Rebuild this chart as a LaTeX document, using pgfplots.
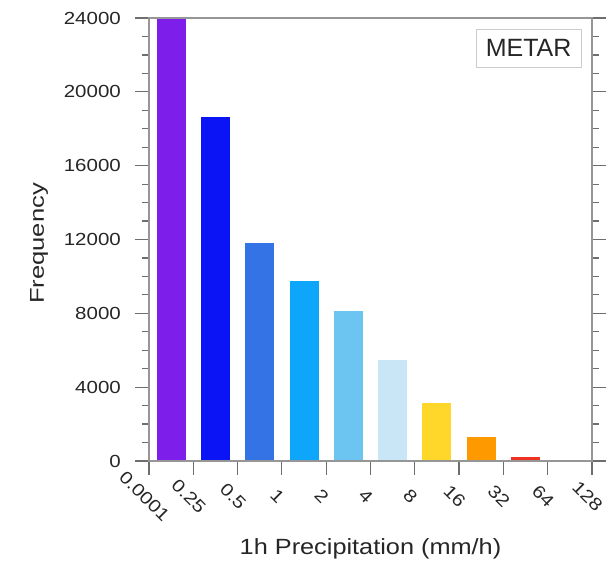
\documentclass[border=0pt]{standalone}
\usepackage{fontspec}
\setmainfont{Liberation Sans}
\newfontfamily\tickfont[FakeStretch=1.17]{Liberation Sans}
\newfontfamily\xlabfont[FakeStretch=1.15]{Liberation Sans}
\newfontfamily\ylabfont[FakeStretch=1.28]{Liberation Sans}
\usepackage{pgfplots}
\pgfplotsset{compat=1.18}
\definecolor{c1}{RGB}{125,30,235}
\definecolor{c2}{RGB}{10,20,245}
\definecolor{c3}{RGB}{52,115,230}
\definecolor{c4}{RGB}{13,166,250}
\definecolor{c5}{RGB}{107,197,240}
\definecolor{c6}{RGB}{200,230,246}
\definecolor{c7}{RGB}{255,214,42}
\definecolor{c8}{RGB}{255,153,0}
\definecolor{c9}{RGB}{238,51,34}
\definecolor{framec}{RGB}{150,150,150}
\definecolor{tickc}{RGB}{110,110,110}
\begin{document}
\begin{tikzpicture}
\begin{axis}[
  name=ax,
  scale only axis,
  width=443pt, height=443pt,
  xmin=0, xmax=10, ymin=0, ymax=24000,
  scaled y ticks=false,
  axis on top,
  axis line style={draw=framec, line width=1.3pt},
  tick style={draw=tickc, line width=1.2pt},
  tick align=outside,
  major tick length=14pt,
  minor tick length=7pt,
  xtick={0,1,2,3,4,5,6,7,8,9,10},
  xticklabels={0.0001,0.25,0.5,1,2,4,8,16,32,64,128},
  xtick pos=bottom,
  ytick={0,4000,8000,12000,16000,20000,24000},
  yticklabels={0,4000,8000,12000,16000,20000,24000},
  minor y tick num=3,
  ytick pos=both,
  xticklabel style={font=\tickfont\fontsize{17.5}{20}\selectfont, text=black!85, inner sep=0pt, anchor=center, xshift=-4.5pt, yshift=-21.5pt, rotate=-45},
  yticklabel style={font=\tickfont\fontsize{17.5}{20}\selectfont, text=black!85, inner sep=0pt, anchor=east, xshift=-14pt},
  xlabel={1h Precipitation (mm/h)},
  xlabel style={font=\xlabfont\fontsize{22}{26}\selectfont, text=black!85, inner sep=0pt, at={([yshift=-94pt]axis description cs:0.5,0)}, anchor=base},
  ylabel={Frequency},
  ylabel style={font=\ylabfont\fontsize{20}{24}\selectfont, text=black!85, inner sep=0pt, at={([xshift=-105pt,yshift=-4pt]axis description cs:0,0.5)}, anchor=base},
  bar width=0.655, bar shift=0pt,
]
\addplot[ybar, fill=c1, draw=none] coordinates {(0.5,24000)};
\addplot[ybar, fill=c2, draw=none] coordinates {(1.5,18630)};
\addplot[ybar, fill=c3, draw=none] coordinates {(2.5,11800)};
\addplot[ybar, fill=c4, draw=none] coordinates {(3.5,9750)};
\addplot[ybar, fill=c5, draw=none] coordinates {(4.5,8120)};
\addplot[ybar, fill=c6, draw=none] coordinates {(5.5,5470)};
\addplot[ybar, fill=c7, draw=none] coordinates {(6.5,3130)};
\addplot[ybar, fill=c8, draw=none] coordinates {(7.5,1280)};
\addplot[ybar, fill=c9, draw=none] coordinates {(8.5,200)};
\node[draw=black!20, line width=0.8pt, minimum width=105pt, minimum height=38pt, inner sep=0pt, font=\fontsize{25}{28}\selectfont, text=black!85] at (rel axis cs:0.857,0.932) {METAR};
\end{axis}
\pgfresetboundingbox
\path[use as bounding box] ([xshift=-149pt,yshift=-101pt]ax.south west) rectangle ++(606pt,562pt);
\end{tikzpicture}
\end{document}
